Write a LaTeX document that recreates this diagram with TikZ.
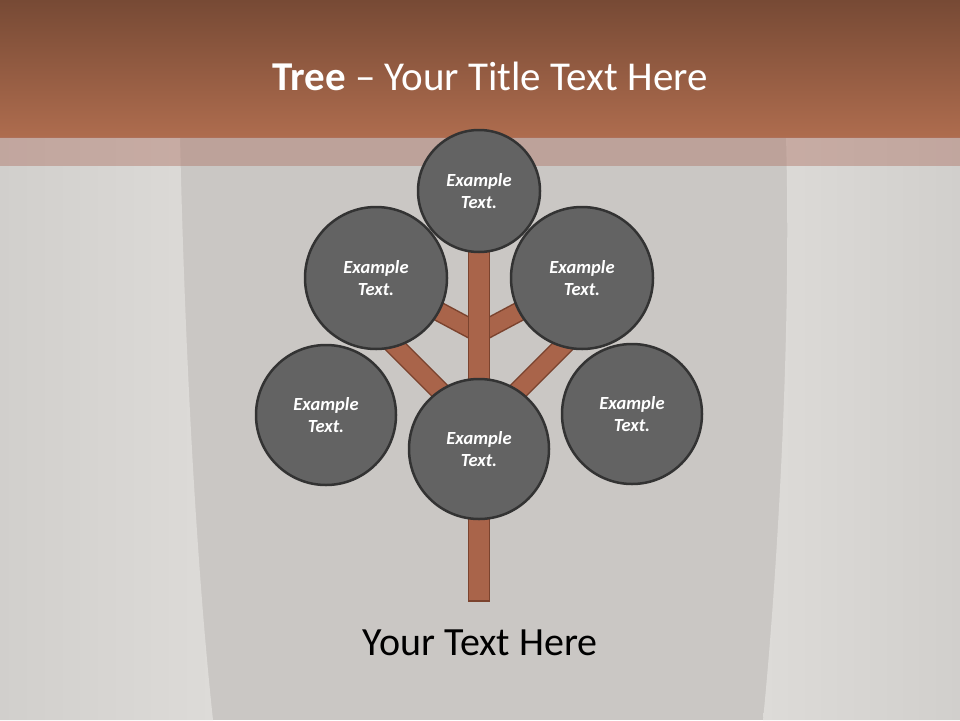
\documentclass[tikz,border=0pt]{standalone}
\usepackage{fontspec}
\setmainfont{Carlito}

\definecolor{barktop}{HTML}{774A35}
\definecolor{barkbot}{HTML}{AE6C4E}
\definecolor{bark}{HTML}{A9644A}
\definecolor{barkedge}{HTML}{7B432E}
\definecolor{leaf}{HTML}{636363}
\definecolor{leafedge}{HTML}{333333}
\definecolor{wall}{HTML}{CAC7C4}
\definecolor{wallside}{HTML}{DDDBD8}
\definecolor{wallfold}{HTML}{D1CFCC}
\definecolor{band}{HTML}{AF7567}

\tikzset{
    leafnode/.style={circle, fill=leaf, draw=leafedge, line width=2.5pt,
        minimum size=#1, inner sep=0pt, align=center, text=white,
        font=\fontsize{18.5}{22}\selectfont\bfseries\itshape},
    branch/.style={draw=barkedge, line width=1.5pt, double=bark,
        double distance=17pt},
}

\begin{document}
\begin{tikzpicture}[x=1pt, y=-1pt]
    \useasboundingbox (0, 0) rectangle (960, 720);
    % background
    \fill[wall] (0, 0) rectangle (960, 720);
    \shade[left color=wallfold, right color=wallside]
        (0, 137) -- (180, 137) .. controls (186, 400) and (200, 600) .. (213, 720)
        -- (0, 720) -- cycle;
    \shade[left color=wallside, right color=wallfold]
        (960, 137) -- (786, 137) .. controls (792, 350) and (775, 600) .. (763, 720)
        -- (960, 720) -- cycle;
    \shade[top color=barktop, bottom color=barkbot] (0, 0) rectangle (960, 137);
    \fill[band, opacity=0.45] (0, 137) rectangle (960, 166);

    % tree
    \coordinate (top) at (479, 191);
    \coordinate (ul) at (376, 278);
    \coordinate (ur) at (582, 278);
    \coordinate (ll) at (326, 415);
    \coordinate (lr) at (632, 414);
    \coordinate (mid) at (479, 449);
    \coordinate (fork) at (479, 333);
    \coordinate (lfork) at (479, 430);
    \coordinate (lend) at (386, 337);
    \coordinate (rend) at (572, 337);

    \draw[branch] (fork) -- (ul);
    \draw[branch] (fork) -- (ur);
    \draw[branch] (lfork) -- (lend);
    \draw[branch] (lfork) -- (rend);
    \node (trunk) [rectangle, fill=bark, draw=barkedge, line width=1.5pt,
        minimum width=21, minimum height=351, inner sep=0pt] at (479, 425.5) {};

    \node (topleaf) [leafnode=122] at (top) {Example\\Text.};
    \node (ulleaf) [leafnode=142] at (ul) {Example\\Text.};
    \node (urleaf) [leafnode=142] at (ur) {Example\\Text.};
    \node (llleaf) [leafnode=140] at (ll) {Example\\Text.};
    \node (lrleaf) [leafnode=140] at (lr) {Example\\Text.};
    \node (midleaf) [leafnode=140] at (mid) {Example\\Text.};

    % texts
    \node (title) [text=white, font=\fontsize{41}{49}\selectfont] at (490, 76)
        {\textbf{Tree} -- Your Title Text Here};
    \node (caption) [font=\fontsize{40}{48}\selectfont] at (480, 643)
        {Your Text Here};
\end{tikzpicture}
\end{document}
